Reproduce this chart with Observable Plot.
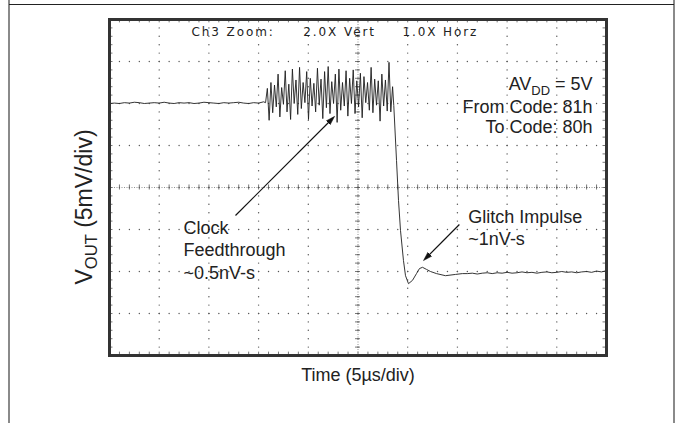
<!DOCTYPE html>
<html><head><meta charset="utf-8">
<script src="https://cdn.jsdelivr.net/npm/d3@7"></script>
<script src="https://cdn.jsdelivr.net/npm/@observablehq/plot@0.6"></script>
<style>
html,body{margin:0;padding:0;background:#fff;}
#wrap{position:relative;width:676px;height:423px;overflow:hidden;}
.edge{position:absolute;}
</style></head><body>
<div id="wrap">
<div id="chart" style="position:absolute;left:0;top:0"></div>
<div class="edge" style="left:8px;top:0;width:2px;height:423px;background:#8a8a8a"></div>
<div class="edge" style="left:673px;top:0;width:2px;height:423px;background:#8a8a8a"></div>
<div class="edge" style="left:9px;top:4px;width:665px;height:1.3px;background:#222"></div>
</div>
<script>
// ---- data (x in time divisions, 5 µs/div; y in vertical divisions, 5 mV/div, centre = 0)
const baseT = [0.0,0.1,0.2,0.3,0.4,0.5,0.6,0.7,0.8,0.9,1.0,1.1,1.2,1.3,1.4,1.5,1.6,1.7,1.8,1.9,2.0,2.1,2.2,2.3,2.4,2.5,2.6,2.7,2.8,2.9,3.0,3.1];
const baseV = [2.00,2.01,2.00,2.02,2.01,2.03,2.02,2.00,2.01,2.02,2.01,2.03,2.01,2.00,2.02,2.01,2.02,2.00,2.01,2.03,2.02,2.01,2.00,2.02,2.01,2.02,2.03,2.01,2.00,2.02,2.01,2.04];
const noiseT = [3.140,3.176,3.212,3.248,3.284,3.320,3.356,3.392,3.428,3.464,
3.500,3.536,3.572,3.608,3.644,3.680,3.716,3.752,3.788,3.824,
3.860,3.896,3.932,3.968,4.004,4.040,4.076,4.112,4.148,4.184,
4.220,4.256,4.292,4.328,4.364,4.400,4.436,4.472,4.508,4.544,
4.580,4.616,4.652,4.688,4.724,4.760,4.796,4.832,4.868,4.904,
4.940,4.976,5.012,5.048,5.084,5.120,5.156,5.192,5.228,5.264,
5.300,5.336,5.372,5.408,5.444,5.480,5.516,5.552,5.588,5.624,
5.660,5.696];
const noiseV = [2.02,2.36,1.60,2.50,1.78,2.44,1.92,2.70,1.68,2.38,
1.98,2.78,1.80,2.46,1.62,2.82,2.00,2.56,1.74,2.86,
1.88,2.50,2.02,2.76,1.62,2.60,1.94,2.48,1.80,2.84,
1.96,2.58,1.64,2.76,1.90,2.88,1.76,2.52,2.00,2.70,
1.55,2.82,1.84,2.50,1.94,2.78,1.70,2.60,2.00,2.80,
1.76,2.54,1.92,2.72,1.66,2.64,2.02,2.50,1.84,2.86,
1.78,2.58,1.96,2.54,1.58,2.70,1.94,2.56,1.82,2.98,
1.80,2.40];
const stepT = [5.72,5.775,5.815,5.855,5.915,5.956,6.016,6.097,6.177,6.237,6.298,6.378,6.459,6.58,6.76,6.96,7.1];
const stepV = [1.95,0.64,-0.31,-1.02,-1.74,-2.10,-2.29,-2.21,-2.05,-1.93,-1.90,-1.95,-2.00,-2.05,-2.10,-2.07,-2.05];
const tailT = [7.2,7.3,7.4,7.5,7.6,7.7,7.8,7.9,8.0,8.1,8.2,8.3,8.4,8.5,8.6,8.7,8.8,8.9,9.0,9.1,9.2,9.3,9.4,9.5,9.6,9.7,9.8,9.9,10.0];
const tailV = [-2.05,-2.04,-2.06,-2.04,-2.03,-2.05,-2.03,-2.04,-2.02,-2.04,-2.03,-2.01,-2.03,-2.02,-2.04,-2.02,-2.01,-2.03,-2.02,-2.00,-2.02,-2.01,-2.03,-2.01,-2.00,-2.02,-1.99,-2.01,-1.98];

// graticule
const majorX = [0,1,2,3,4,5,6,7,8,9,10];
const majorY = [-4,-3,-2,-1,0,1,2,3,4];
const minorStep = 0.2;

// annotations
const headerLabels = ["Ch3 Zoom:", "2.0X Vert", "1.0X Horz"];
const headerX = [1.65, 3.90, 5.895];
const condLabels = ["AV{DD} = 5V", "From Code: 81h", "To Code: 80h"];
const condY = [2.45, 1.92, 1.44];
const clockLabels = ["Clock", "Feedthrough", "~0.5nV-s"];
const clockY = [-0.98, -1.50, -2.03];
const glitchLabels = ["Glitch Impulse", "~1nV-s"];
const glitchY = [-0.70, -1.22];
const arrows = [
  {x1: 2.535, y1: -0.667, x2: 4.487, y2: 1.643},
  {x1: 7.04, y1: -0.88, x2: 6.36, y2: -1.69}
];
const xLabel = "Time (5µs/div)";
const yLabel = "V{OUT} (5mV/div)";

// ---- build tables
const trace = [];
[[baseT, baseV], [noiseT, noiseV], [stepT, stepV], [tailT, tailV]].forEach(([T, V]) => T.forEach((t, i) => trace.push({t, v: V[i]})));
const minorX = d3.range(0, 10 + 1e-9, minorStep);
const minorY = d3.range(-4, 4 + 1e-9, minorStep);
const innerX = majorX.slice(1, -1), innerY = majorY.slice(1, -1);
const gridDots = [];
innerX.forEach(gx => minorY.forEach(m => gridDots.push({x: gx, y: m})));
innerY.forEach(gy => minorX.forEach(m => gridDots.push({x: m, y: gy})));

const F = "Liberation Sans, Arial, sans-serif";
const tc = "#222";
const plot = Plot.plot({
  width: 676, height: 423,
  marginLeft: 109, marginRight: 70, marginTop: 19, marginBottom: 68,
  x: {domain: [0, 10], axis: null},
  y: {domain: [-4, 4], axis: null},
  style: {background: "transparent", fontFamily: F},
  marks: [
    Plot.dot(gridDots, {x: "x", y: "y", r: 0.7, fill: "#555", stroke: null}),
    Plot.ruleX([5], {stroke: "#777", strokeWidth: 0.8, strokeDasharray: "1,1.5"}),
    Plot.ruleY([0], {stroke: "#777", strokeWidth: 0.8, strokeDasharray: "1,1.5"}),
    Plot.ruleX(minorX, {x: d => d, y1: -0.06, y2: 0.06, stroke: "#555", strokeWidth: 0.8}),
    Plot.ruleY(minorY, {y: d => d, x1: 4.95, x2: 5.05, stroke: "#555", strokeWidth: 0.8}),
    Plot.ruleX(minorX, {x: d => d, y1: 4, y2: 3.92, stroke: "#555", strokeWidth: 0.8}),
    Plot.ruleX(minorX, {x: d => d, y1: -4, y2: -3.92, stroke: "#555", strokeWidth: 0.8}),
    Plot.ruleY(minorY, {y: d => d, x1: 0, x2: 0.07, stroke: "#555", strokeWidth: 0.8}),
    Plot.ruleY(minorY, {y: d => d, x1: 10, x2: 9.93, stroke: "#555", strokeWidth: 0.8}),
    Plot.line(trace, {x: "t", y: "v", stroke: "#1e1e1e", strokeWidth: 0.9}),
    Plot.frame({stroke: "#333", strokeWidth: 3}),
    Plot.text(headerLabels, {x: (d, i) => headerX[i], y: 3.69, text: d => d, textAnchor: "start",
      fontFamily: "DejaVu Sans", fontSize: 12, fill: "#222"}),
    Plot.text(condLabels, {x: 9.72, y: (d, i) => condY[i], text: d => d, textAnchor: "end", fontSize: 18, fill: tc}),
    Plot.text(clockLabels, {x: 1.49, y: (d, i) => clockY[i], text: d => d, textAnchor: "start", fontSize: 18, fill: tc}),
    Plot.text(glitchLabels, {x: 7.22, y: (d, i) => glitchY[i], text: d => d, textAnchor: "start", fontSize: 18, fill: tc}),
    Plot.link(arrows, {x1: "x1", y1: "y1", x2: "x2", y2: "y2", stroke: "#111", strokeWidth: 1.2, markerEnd: "arrow"}),
    Plot.text([xLabel], {frameAnchor: "bottom", dy: 25.2, text: d => d, fontSize: 18, fill: tc}),
    Plot.text([yLabel], {frameAnchor: "left", textAnchor: "middle", dx: -25.2, dy: 19.5, rotate: -90, text: d => d, fontSize: 23, fill: tc})
  ]
});
document.getElementById("chart").appendChild(plot);

// letter spacing on the scope header
d3.select(plot).selectAll("text").filter(function() { return headerLabels.includes(this.textContent); })
  .style("letter-spacing", "1.9px");
// filled arrow heads
d3.select(plot).selectAll("marker").each(function() {
  const m = d3.select(this);
  const col = m.attr("stroke") || "#111";
  m.attr("markerWidth", 10).attr("markerHeight", 10).attr("fill", col).attr("stroke", col).attr("stroke-width", 0.4);
  m.selectAll("*").remove();
  m.append("path").attr("d", "M-6,-2.6L2.5,0L-6,2.6Z");
});
// subscripts written as {..}
d3.select(plot).selectAll("text").each(function() {
  const s = this.textContent;
  if (!s.includes("{")) return;
  const fs = parseFloat(getComputedStyle(this).fontSize) || 18;
  const parts = s.split(/(\{[^}]*\})/).filter(p => p.length);
  const el = d3.select(this); el.text(null);
  let sub = false;
  parts.forEach(p => {
    if (p.startsWith("{")) {
      el.append("tspan").attr("font-size", fs * 0.72).attr("dy", fs * 0.25).text(p.slice(1, -1));
      sub = true;
    } else {
      const ts = el.append("tspan").text(p);
      if (sub) { ts.attr("dy", -fs * 0.25); sub = false; }
    }
  });
});
</script>
</body></html>
